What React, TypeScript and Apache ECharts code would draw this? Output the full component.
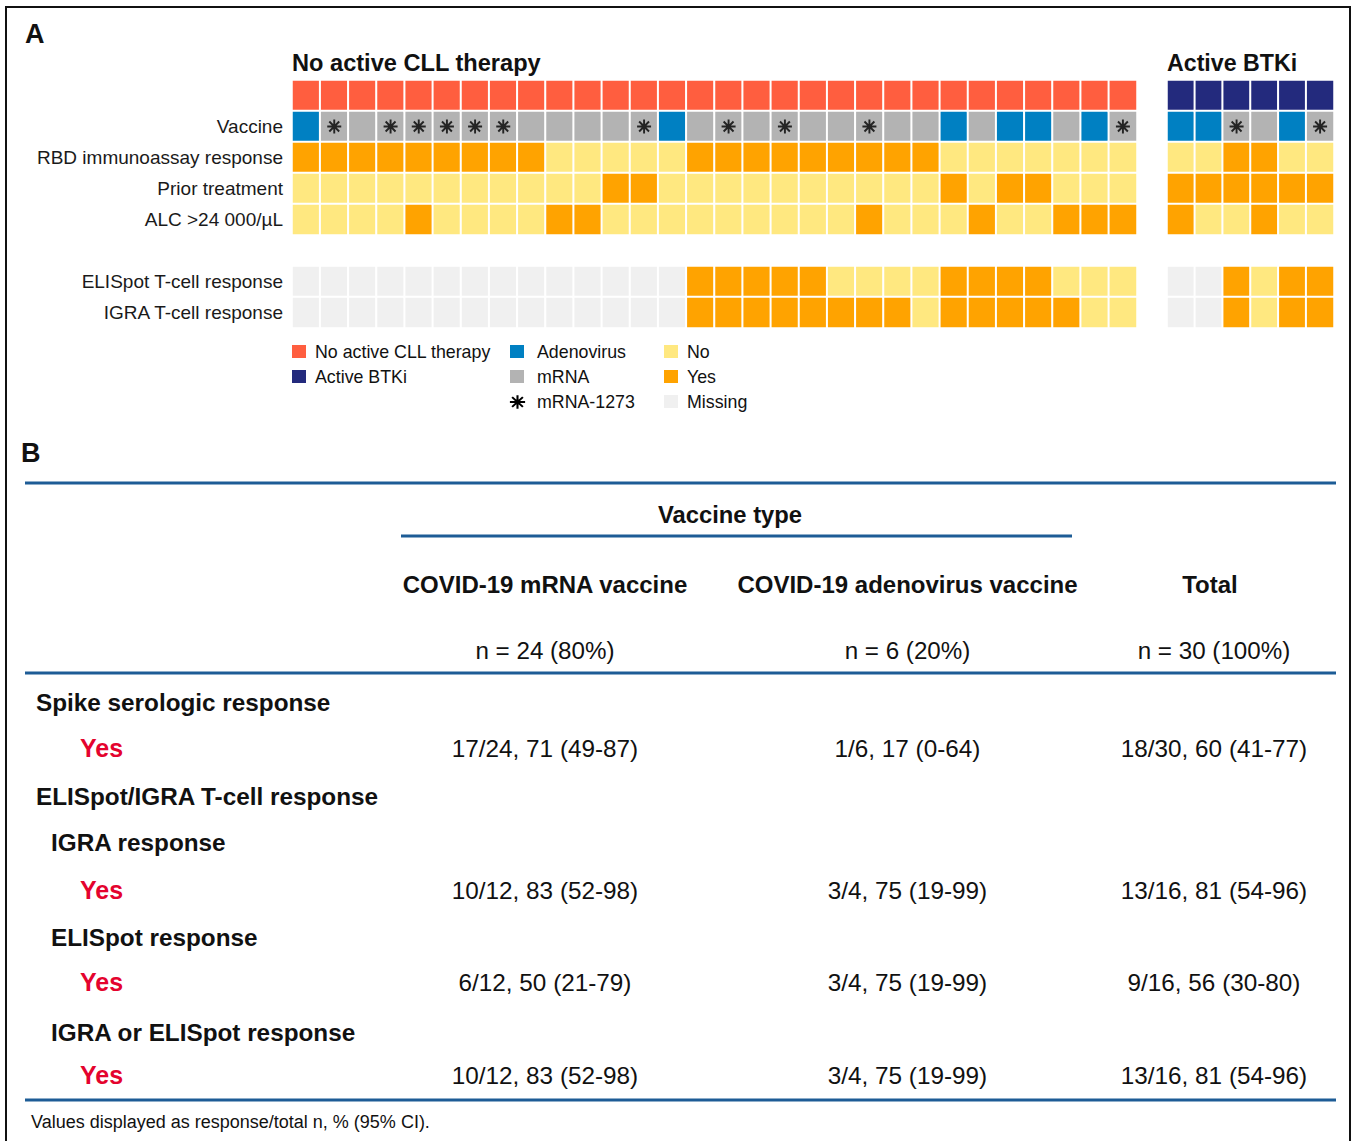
import React, { useEffect, useRef } from "react";
import * as echarts from "echarts";

const FONT = "'Liberation Sans', Arial, Helvetica, sans-serif";

// Heatmap rows (top to bottom). "grp" = treatment group strip, "gap" = spacer row.
const rowKeys = ["grp", "Vaccine", "RBD immunoassay response", "Prior treatment", "ALC >24 000/µL", "gap", "ELISpot T-cell response", "IGRA T-cell response"];

// Vaccine: A = adenovirus, M = mRNA, S = mRNA-1273
const vaccineNoTherapy = ["A", "S", "M", "S", "S", "S", "S", "S", "M", "M", "M", "M", "S", "A", "M", "S", "M", "S", "M", "M", "S", "M", "M", "A", "M", "A", "A", "M", "A", "S"];
const vaccineBTKi = ["A", "A", "S", "M", "A", "S"];

// Y = yes, N = no, - = missing
const rbdNoTherapy = ["Y", "Y", "Y", "Y", "Y", "Y", "Y", "Y", "Y", "N", "N", "N", "N", "N", "Y", "Y", "Y", "Y", "Y", "Y", "Y", "Y", "Y", "N", "N", "N", "N", "N", "N", "N"];
const rbdBTKi = ["N", "N", "Y", "Y", "N", "N"];

const priorNoTherapy = ["N", "N", "N", "N", "N", "N", "N", "N", "N", "N", "N", "Y", "Y", "N", "N", "N", "N", "N", "N", "N", "N", "N", "N", "Y", "N", "Y", "Y", "N", "N", "N"];
const priorBTKi = ["Y", "Y", "Y", "Y", "Y", "Y"];

const alcNoTherapy = ["N", "N", "N", "N", "Y", "N", "N", "N", "N", "Y", "Y", "N", "N", "N", "N", "N", "N", "N", "N", "N", "Y", "N", "N", "N", "Y", "N", "N", "Y", "Y", "Y"];
const alcBTKi = ["Y", "N", "N", "Y", "N", "N"];

const elispotNoTherapy = ["-", "-", "-", "-", "-", "-", "-", "-", "-", "-", "-", "-", "-", "-", "Y", "Y", "Y", "Y", "Y", "N", "N", "N", "N", "Y", "Y", "Y", "Y", "N", "N", "N"];
const elispotBTKi = ["-", "-", "Y", "N", "Y", "Y"];

const igraNoTherapy = ["-", "-", "-", "-", "-", "-", "-", "-", "-", "-", "-", "-", "-", "-", "Y", "Y", "Y", "Y", "Y", "Y", "Y", "Y", "N", "Y", "Y", "Y", "Y", "Y", "N", "N"];
const igraBTKi = ["-", "-", "Y", "N", "Y", "Y"];

// Legend entries: [label, colour]
const legendGroups = [
  ["No active CLL therapy", "#FF5E3F"],
  ["Active BTKi", "#232A7D"],
];
const legendVaccine = [
  ["Adenovirus", "#0080C2"],
  ["mRNA", "#B3B3B3"],
];
const legendStatus = [
  ["No", "#FFE880"],
  ["Yes", "#FFA300"],
  ["Missing", "#F0F0F0"],
];

// Table B
const tableColumns = ["COVID-19 mRNA vaccine", "COVID-19 adenovirus vaccine", "Total"];
const tableColumnN = ["n = 24 (80%)", "n = 6 (20%)", "n = 30 (100%)"];
const spikeYes = ["17/24, 71 (49-87)", "1/6, 17 (0-64)", "18/30, 60 (41-77)"];
const igraYes = ["10/12, 83 (52-98)", "3/4, 75 (19-99)", "13/16, 81 (54-96)"];
const elispotYes = ["6/12, 50 (21-79)", "3/4, 75 (19-99)", "9/16, 56 (30-80)"];
const eitherYes = ["10/12, 83 (52-98)", "3/4, 75 (19-99)", "13/16, 81 (54-96)"];

const CODE = { noTherapy: 0, btki: 1, adeno: 2, mrna: 3, no: 4, yes: 5, missing: 6 };
const codeColors = ["#FF5E3F", "#232A7D", "#0080C2", "#B3B3B3", "#FFE880", "#FFA300", "#F0F0F0"];

const ASTERISK_D =
  "M-1.1,-8L1.1,-8L1.1,8L-1.1,8Z" +
  "M-8,-1.1L8,-1.1L8,1.1L-8,1.1Z" +
  "M4.879,-6.435L6.435,-4.879L-4.879,6.435L-6.435,4.879Z" +
  "M-6.435,-4.879L-4.879,-6.435L6.435,4.879L4.879,6.435Z";

function statusCode(s: string) {
  return s === "Y" ? CODE.yes : s === "N" ? CODE.no : CODE.missing;
}

function buildCells(groupCode: number, vaccine: string[], rbd: string[], prior: string[], alc: string[], elispot: string[], igra: string[]) {
  const cells: number[][] = [];
  vaccine.forEach((v, i) => {
    cells.push([i, 0, groupCode]);
    cells.push([i, 1, v === "A" ? CODE.adeno : CODE.mrna]);
    cells.push([i, 2, statusCode(rbd[i])]);
    cells.push([i, 3, statusCode(prior[i])]);
    cells.push([i, 4, statusCode(alc[i])]);
    cells.push([i, 6, statusCode(elispot[i])]);
    cells.push([i, 7, statusCode(igra[i])]);
  });
  return cells;
}

function starPoints(vaccine: string[]) {
  const pts: number[][] = [];
  vaccine.forEach((v, i) => {
    if (v === "S") pts.push([i, 1]);
  });
  return pts;
}

function txt(x: number, y: number, text: string, o: any = {}) {
  return {
    type: "text",
    x,
    y,
    silent: true,
    style: {
      text,
      fontFamily: FONT,
      fontSize: o.size || 22,
      fontWeight: o.bold ? "bold" : "normal",
      fill: o.color || "#111",
      align: o.align || "left",
      textAlign: o.align || "left",
      verticalAlign: "middle",
      textVerticalAlign: "middle",
    },
  };
}

function hline(x1: number, x2: number, y: number) {
  return {
    type: "line",
    silent: true,
    shape: { x1, y1: y, x2, y2: y },
    style: { stroke: "#1D5C96", lineWidth: 3 },
  };
}

export default function App() {
  const ref = useRef<HTMLDivElement>(null);

  useEffect(() => {
    document.body.style.margin = "0";
    echarts.graphic.registerShape("asterisk", echarts.graphic.extendPath(ASTERISK_D, {}));
    const chart = echarts.init(ref.current!, null, { renderer: "svg" });

    const leftCells = buildCells(CODE.noTherapy, vaccineNoTherapy, rbdNoTherapy, priorNoTherapy, alcNoTherapy, elispotNoTherapy, igraNoTherapy);
    const rightCells = buildCells(CODE.btki, vaccineBTKi, rbdBTKi, priorBTKi, alcBTKi, elispotBTKi, igraBTKi);

    const hiddenAxis = {
      axisLine: { show: false },
      axisTick: { show: false },
      splitLine: { show: false },
    };

    const graphics: any[] = [];
    // outer frame
    graphics.push({
      type: "rect",
      silent: true,
      shape: { x: 6, y: 7, width: 1344, height: 1160 },
      style: { fill: "none", stroke: "#111", lineWidth: 2 },
    });
    // panel A headings
    graphics.push(txt(25, 34, "A", { size: 27, bold: true }));
    graphics.push(txt(292, 63, "No active CLL therapy", { size: 23.6, bold: true }));
    graphics.push(txt(1167, 63, "Active BTKi", { size: 23.2, bold: true }));

    // legend
    const legendRowsY = [352, 377, 402];
    const legendCol = (items: string[][], boxX: number, textX: number) => {
      items.forEach(([label, color], i) => {
        const y = legendRowsY[i];
        graphics.push({
          type: "rect",
          silent: true,
          shape: { x: boxX, y: y - 7, width: 14, height: 13 },
          style: { fill: color },
        });
        graphics.push(txt(textX, y, label, { size: 17.8 }));
      });
    };
    legendCol(legendGroups, 292, 315);
    legendCol(legendVaccine, 510, 537);
    legendCol(legendStatus, 664, 687);
    graphics.push({
      type: "asterisk",
      silent: true,
      x: 517.5,
      y: legendRowsY[2],
      scaleX: 0.95,
      scaleY: 0.85,
      style: { fill: "#000" },
    });
    graphics.push(txt(537, legendRowsY[2], "mRNA-1273", { size: 17.8 }));

    // panel B table
    graphics.push(txt(21, 453, "B", { size: 27, bold: true }));
    graphics.push(hline(25, 1336, 483));
    graphics.push(txt(730, 514, "Vaccine type", { size: 23.8, bold: true, align: "center" }));
    graphics.push(hline(401, 1072, 536));
    const colX = [545, 907.5, 1212];
    tableColumns.forEach((c, i) => graphics.push(txt(colX[i] - (i === 2 ? 2 : 0), 584, c, { size: 24, bold: true, align: "center" })));
    tableColumnN.forEach((c, i) => graphics.push(txt(colX[i] + (i === 2 ? 2 : 0), 650, c, { size: 24.2, align: "center" })));
    graphics.push(hline(25, 1336, 673));

    const headSize = 24.3;
    graphics.push(txt(36, 702, "Spike serologic response", { size: headSize, bold: true }));
    graphics.push(txt(36, 796, "ELISpot/IGRA T-cell response", { size: headSize, bold: true }));
    graphics.push(txt(51, 842, "IGRA response", { size: headSize, bold: true }));
    graphics.push(txt(51, 937, "ELISpot response", { size: headSize, bold: true }));
    graphics.push(txt(51, 1032, "IGRA or ELISpot response", { size: headSize, bold: true }));

    const valueRows: [number, string[]][] = [
      [748, spikeYes],
      [890, igraYes],
      [982, elispotYes],
      [1075, eitherYes],
    ];
    valueRows.forEach(([y, vals]) => {
      graphics.push(txt(80, y, "Yes", { size: 25, bold: true, color: "#E4032E" }));
      vals.forEach((v, i) => graphics.push(txt(colX[i] + (i === 2 ? 2 : 0), y, v, { size: 24.3, align: "center" })));
    });
    graphics.push(hline(25, 1336, 1100));
    graphics.push(txt(31, 1122, "Values displayed as response/total n, % (95% CI).", { size: 18 }));

    chart.setOption({
      animation: false,
      backgroundColor: "#fff",
      textStyle: { fontFamily: FONT },
      grid: [
        { left: 292, top: 80, width: 845, height: 248 },
        { left: 1167, top: 80, width: 167, height: 248 },
      ],
      xAxis: [
        { type: "category", gridIndex: 0, data: vaccineNoTherapy.map((_, i) => String(i + 1)), show: false },
        { type: "category", gridIndex: 1, data: vaccineBTKi.map((_, i) => String(i + 1)), show: false },
      ],
      yAxis: [
        {
          type: "category",
          gridIndex: 0,
          inverse: true,
          data: rowKeys,
          ...hiddenAxis,
          axisLabel: {
            margin: 9,
            fontSize: 19,
            color: "#1a1a1a",
            fontFamily: FONT,
            formatter: (v: string) => (v === "grp" || v === "gap" ? "" : v),
          },
        },
        {
          type: "category",
          gridIndex: 1,
          inverse: true,
          data: rowKeys,
          ...hiddenAxis,
          axisLabel: { show: false },
        },
      ],
      visualMap: {
        type: "piecewise",
        show: false,
        dimension: 2,
        seriesIndex: [0, 1],
        pieces: codeColors.map((color, value) => ({ value, color })),
      },
      series: [
        {
          type: "heatmap",
          xAxisIndex: 0,
          yAxisIndex: 0,
          data: leftCells,
          itemStyle: { borderColor: "#fff", borderWidth: 2 },
          emphasis: { disabled: true },
        },
        {
          type: "heatmap",
          xAxisIndex: 1,
          yAxisIndex: 1,
          data: rightCells,
          itemStyle: { borderColor: "#fff", borderWidth: 2 },
          emphasis: { disabled: true },
        },
        {
          type: "scatter",
          xAxisIndex: 0,
          yAxisIndex: 0,
          z: 5,
          data: starPoints(vaccineNoTherapy),
          symbol: "path://" + ASTERISK_D,
          symbolSize: [14, 14],
          itemStyle: { color: "#000" },
          silent: true,
        },
        {
          type: "scatter",
          xAxisIndex: 1,
          yAxisIndex: 1,
          z: 5,
          data: starPoints(vaccineBTKi),
          symbol: "path://" + ASTERISK_D,
          symbolSize: [14, 14],
          itemStyle: { color: "#000" },
          silent: true,
        },
      ],
      graphic: graphics,
    });

    return () => chart.dispose();
  }, []);

  return <div ref={ref} style={{ width: 1356, height: 1141, display: "block" }} />;
}
